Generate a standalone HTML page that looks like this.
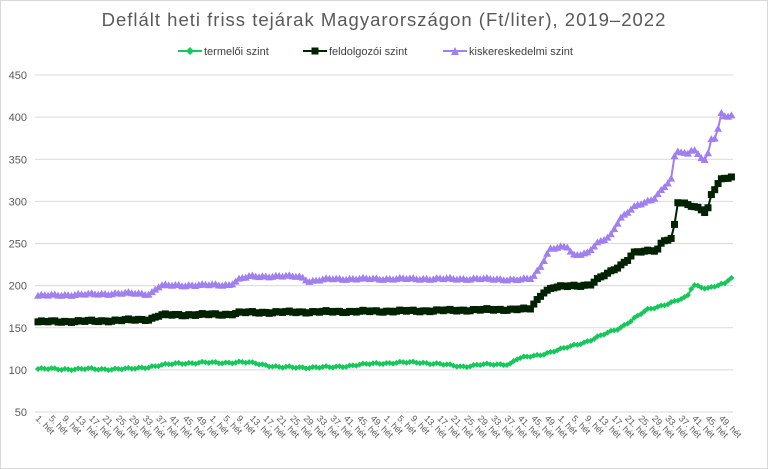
<!DOCTYPE html>
<html><head><meta charset="utf-8"><style>
html,body{margin:0;padding:0;background:#fff}
svg{display:block;font-family:"Liberation Sans",sans-serif}
</style></head><body>
<svg id="c" width="768" height="469" viewBox="0 0 768 469" xmlns="http://www.w3.org/2000/svg">
<rect x="0.5" y="0.5" width="767" height="468" fill="#fff" stroke="#d9d9d9"/>
<text x="384" y="26" text-anchor="middle" font-size="18.5" fill="#595959" letter-spacing="1">Deflált heti friss tejárak Magyarországon (Ft/liter), 2019–2022</text>
<g font-size="11" fill="#404040">
<line x1="178" y1="51" x2="202" y2="51" stroke="#14c85a" stroke-width="2"/><path d="M190 47 L194 51 L190 55 L186 51Z" fill="#14c85a"/>
<text x="204" y="55">termelői szint</text>
<line x1="303" y1="51" x2="327" y2="51" stroke="#002200" stroke-width="2"/><rect x="311.5" y="47.5" width="7" height="7" fill="#002200"/>
<text x="329" y="55">feldolgozói szint</text>
<line x1="443" y1="51" x2="467" y2="51" stroke="#a080f0" stroke-width="2"/><path d="M455 47 L459 55 L451 55Z" fill="#a080f0"/>
<text x="469" y="55">kiskereskedelmi szint</text>
</g>
<g id="grid"></g><g id="series"></g><g id="xl" font-size="9" fill="#595959"></g>
</svg>
<script>
var ns="http://www.w3.org/2000/svg";
function el(p,t,a,txt){var e=document.createElementNS(ns,t);for(var k in a)e.setAttribute(k,a[k]);if(txt!=null)e.textContent=txt;p.appendChild(e);return e;}
function Y(v){return 412-(v-50)*0.8425;}
function X(i){return 38+i*3.35;}
var g=document.getElementById('grid');
for(var v=50;v<=450;v+=50){el(g,'line',{x1:35,x2:733,y1:Y(v),y2:Y(v),stroke:'#d9d9d9','stroke-width':1});
el(g,'text',{x:27,y:Y(v)+4,'text-anchor':'end','font-size':11,fill:'#595959'},String(v));}
var xl=document.getElementById('xl');
for(var k=0;k<52;k++){var w=1+(k%13)*4;var x=X(k*4)-3;
el(xl,'text',{transform:'translate('+x+',419) rotate(45)'},w+'. hét');}
function px2i(p){return (p-38)/3.35;}
function build(kp){var out=[];for(var i=0;i<208;i++){var v=kp[kp.length-1][1];
for(var j=0;j<kp.length-1;j++){var a=px2i(kp[j][0]),b=px2i(kp[j+1][0]);if(i>=a&&i<=b){v=kp[j][1]+(kp[j+1][1]-kp[j][1])*(b>a?(i-a)/(b-a):0);break;}}
if(i<px2i(kp[0][0]))v=kp[0][1];
v+=Math.sin(i*1.7)*0.8+Math.sin(i*0.53)*0.6;out.push(v);}return out;}
var green=build([[38,101],[130,101],[180,108],[240,109],[255,108],[280,103],[330,103],[380,108],[420,109],[463,104],[480,106],[510,107],[517,113],[540,118],[560,124],[590,135],[620,150],[647,171],[687,186],[693,201],[707,197],[725,202],[730,209]]);
var black=build([[38,157],[100,158],[150,160],[160,165],[230,166],[240,168],[420,170],[520,172],[530,172],[543,192],[553,198],[590,201],[597,207],[613,218],[627,230],[633,239],[657,242],[663,254],[673,256],[677,299],[700,292],[707,286],[710,305],[720,325],[732,329]]);
var purple=build([[38,188],[130,191],[150,190],[160,200],[230,201],[240,208],[250,211],[300,211],[310,205],[330,208],[480,208],[520,207],[530,208],[533,210],[540,222],[550,244],[567,246],[573,236],[587,239],[597,250],[610,258],[620,280],[633,293],[653,302],[663,316],[673,329],[675,361],[687,355],[693,363],[700,353],[707,349],[710,373],[717,376],[720,405],[725,400],[732,402]]);
var s=document.getElementById('series');
function draw(d,col,mk){var pts=d.map(function(v,i){return X(i).toFixed(1)+','+Y(v).toFixed(1)}).join(' ');
el(s,'polyline',{points:pts,fill:'none',stroke:col,'stroke-width':2});
d.forEach(function(v,i){var x=X(i),y=Y(v);
if(mk=='d')el(s,'path',{d:'M'+x+' '+(y-3)+'L'+(x+3)+' '+y+'L'+x+' '+(y+3)+'L'+(x-3)+' '+y+'Z',fill:col});
else if(mk=='s')el(s,'rect',{x:x-3.5,y:y-3.5,width:7,height:7,fill:col});
else el(s,'path',{d:'M'+x+' '+(y-4)+'L'+(x+4)+' '+(y+3)+'L'+(x-4)+' '+(y+3)+'Z',fill:col});});}
draw(purple,'#a080f0','t');draw(black,'#002200','s');draw(green,'#14c85a','d');
</script>
</body></html>
